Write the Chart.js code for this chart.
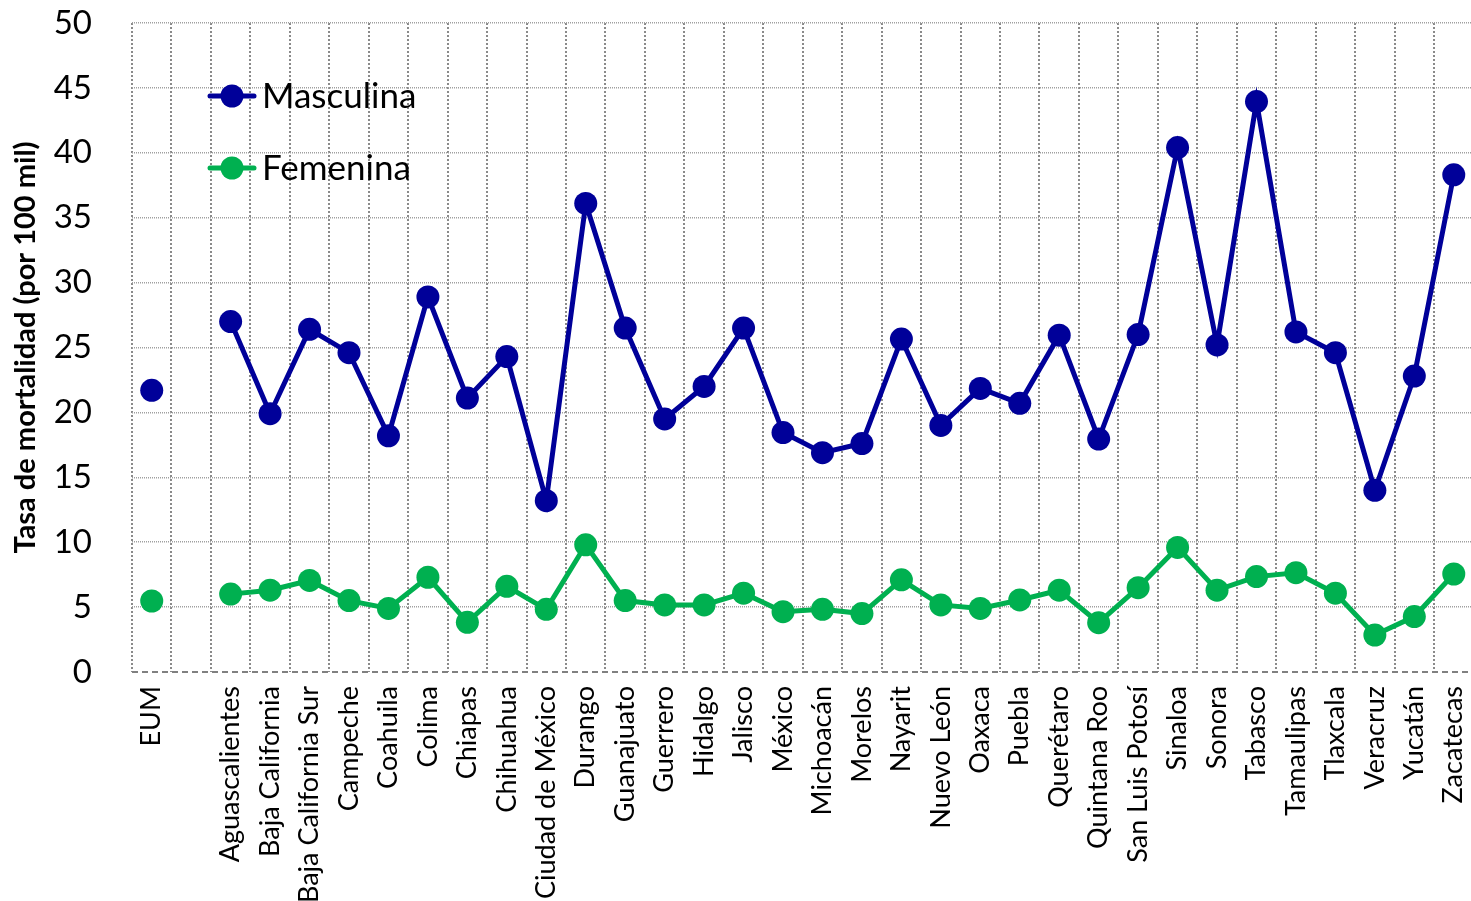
<!DOCTYPE html>
<html>
<head>
<meta charset="utf-8">
<script src="https://cdn.jsdelivr.net/npm/chart.js@4/dist/chart.umd.min.js"></script>
<style>
html,body{margin:0;padding:0;background:#fff;overflow:hidden;}
#wrap{width:1485px;height:901px;position:relative;}
</style>
</head>
<body>
<div id="wrap"><canvas id="c"></canvas></div>
<script>
const categories = ["EUM", "", "Aguascalientes", "Baja California", "Baja California Sur", "Campeche", "Coahuila", "Colima", "Chiapas", "Chihuahua", "Ciudad de México", "Durango", "Guanajuato", "Guerrero", "Hidalgo", "Jalisco", "México", "Michoacán", "Morelos", "Nayarit", "Nuevo León", "Oaxaca", "Puebla", "Querétaro", "Quintana Roo", "San Luis Potosí", "Sinaloa", "Sonora", "Tabasco", "Tamaulipas", "Tlaxcala", "Veracruz", "Yucatán", "Zacatecas"];
const masculina = [21.7, null, 27.0, 19.9, 26.4, 24.6, 18.2, 28.9, 21.1, 24.3, 13.2, 36.1, 26.5, 19.5, 22.0, 26.5, 18.45, 16.9, 17.6, 25.65, 19.0, 21.85, 20.7, 25.95, 17.95, 26.0, 40.4, 25.2, 43.95, 26.2, 24.6, 14.0, 22.8, 38.3];
const femenina = [5.47, null, 6.0, 6.3, 7.05, 5.5, 4.9, 7.3, 3.83, 6.6, 4.83, 9.8, 5.5, 5.17, 5.17, 6.07, 4.65, 4.83, 4.5, 7.1, 5.17, 4.9, 5.55, 6.3, 3.8, 6.5, 9.6, 6.3, 7.35, 7.65, 6.07, 2.85, 4.27, 7.55];
const yTicks = [0, 5, 10, 15, 20, 25, 30, 35, 40, 45, 50];
const seriesNames = ["Masculina", "Femenina"];
const seriesColors = ["#000099", "#00B050"];
const yTitle = "Tasa de mortalidad (por 100 mil)";

const FONT = "Lato, 'Open Sans', sans-serif";

const legendPlugin = {
  id: 'inLegend',
  afterDatasetsDraw(chart) {
    const ctx = chart.ctx;
    ctx.save();
    chart.data.datasets.forEach((ds, i) => {
      const y = 96 + i * 72;
      ctx.strokeStyle = ds.borderColor;
      ctx.lineWidth = 5;
      ctx.lineCap = 'round';
      ctx.beginPath();
      ctx.moveTo(210, y);
      ctx.lineTo(254, y);
      ctx.stroke();
      ctx.fillStyle = ds.borderColor;
      ctx.beginPath();
      ctx.arc(232, y, 11.5, 0, Math.PI * 2);
      ctx.fill();
      ctx.fillStyle = '#000';
      ctx.font = "35px " + FONT;
      ctx.textBaseline = 'middle';
      ctx.textAlign = 'left';
      ctx.fillText(ds.label, 262, y + 1);
    });
    ctx.restore();
  }
};

const baseLinePlugin = {
  id: 'baseLine',
  beforeDatasetsDraw(chart) {
    const ctx = chart.ctx;
    const a = chart.chartArea;
    const y = chart.scales.y.getPixelForValue(0);
    ctx.save();
    ctx.strokeStyle = '#808080';
    ctx.lineWidth = 2;
    ctx.setLineDash([6, 4]);
    ctx.beginPath();
    ctx.moveTo(a.left, y);
    ctx.lineTo(a.right, y);
    ctx.stroke();
    ctx.restore();
  }
};

new Chart(document.getElementById('c'), {
  type: 'line',
  data: {
    labels: categories,
    datasets: [
      { label: seriesNames[0], data: masculina, borderColor: seriesColors[0], backgroundColor: seriesColors[0],
        borderWidth: 5, pointRadius: 11.5, pointHoverRadius: 11.5, pointBorderWidth: 0, spanGaps: false, tension: 0 },
      { label: seriesNames[1], data: femenina, borderColor: seriesColors[1], backgroundColor: seriesColors[1],
        borderWidth: 5, pointRadius: 11.5, pointHoverRadius: 11.5, pointBorderWidth: 0, spanGaps: false, tension: 0 }
    ]
  },
  options: {
    responsive: true,
    maintainAspectRatio: false,
    animation: false,
    events: [],
    layout: { padding: { top: 23, right: 0, left: 0, bottom: 0 } },
    plugins: { legend: { display: false }, tooltip: { enabled: false } },
    scales: {
      x: {
        type: 'category',
        offset: true,
        grid: { offset: true, color: '#8a8a8a', lineWidth: 2, drawTicks: false },
        border: { display: false, dash: [2, 2] },
        ticks: { autoSkip: false, maxRotation: 90, minRotation: 90, padding: 14, color: '#000',
                 font: { family: FONT, size: 27 } },
        afterFit(s) { s.height = 229; s.paddingLeft = 0; s.paddingRight = 0; }
      },
      y: {
        min: 0, max: 50,
        afterBuildTicks(s) { s.ticks = yTicks.map(v => ({ value: v })); },
        grid: { color: (c) => (c.tick && c.tick.value === 0) ? 'rgba(0,0,0,0)' : '#a0a0a0', lineWidth: 1.5, drawTicks: false },
        border: { display: false, dash: [1, 1] },
        ticks: { padding: 40, color: '#000', font: { family: FONT, size: 33 } },
        title: { display: true, text: yTitle, color: '#000', padding: { top: 8, bottom: 0 },
                 font: { family: FONT, size: 29, weight: 'bold' } },
        afterFit(s) { s.width = 132; s.paddingTop = 0; s.paddingBottom = 0; }
      }
    }
  },
  plugins: [baseLinePlugin, legendPlugin]
});
</script>
</body>
</html>
